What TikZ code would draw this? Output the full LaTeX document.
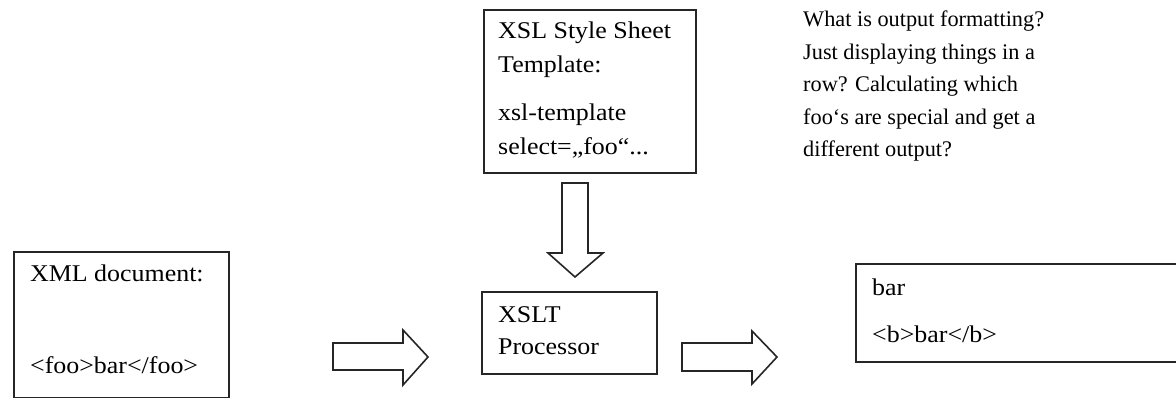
\documentclass[tikz,border=0pt]{standalone}
\usepackage{fontspec}
\setmainfont{Liberation Serif}
\newfontfamily\boxfont{Liberation Serif}[FakeStretch=1.08]
\newfontfamily\notefont{Liberation Serif}

\tikzset{
  box/.style={draw=black!85, line width=1.6pt, anchor=north west, inner sep=0pt},
  txt/.style={anchor=base west, inner sep=0pt, font=\boxfont\fontsize{24}{34}\selectfont},
  note/.style={anchor=base west, inner sep=0pt, font=\notefont\fontsize{22.3}{32.5}\selectfont},
  blockarrow/.style={draw=black!85, fill=white, line width=1.6pt, line join=miter}
}

\begin{document}
\begin{tikzpicture}[x=1pt, y=-1pt]
  \useasboundingbox (0,0) rectangle (1176,398);
  \clip (0,0) rectangle (1176,398);

  % boxes
  \node[box, minimum width=212pt, minimum height=163pt] (xsl) at (483,9) {};
  \node[box, minimum width=215pt, minimum height=146pt] (xml) at (13,251) {};
  \node[box, minimum width=175pt, minimum height=82pt] (proc) at (481,291) {};
  \node[box, minimum width=340pt, minimum height=98pt] (out) at (855,263) {};

  % box texts
  \node[txt] (xsltext) at (498,39)
    {\parbox[t]{190pt}{XSL Style Sheet\\Template:\\[14pt]xsl-template\\select=„foo“...}};
  \node[txt] (xmlhead) at (30,282) {XML document:};
  \node[txt] (xmlbody) at (30,373) {<foo>bar</foo>};
  \node[txt] (proctext) at (498,323)
    {\parbox[t]{150pt}{\baselineskip=32pt XSLT\\Processor}};
  \node[txt] (outa) at (872,295) {bar};
  \node[txt] (outb) at (872,342) {<b>bar</b>};

  % free note
  \node[note] (question) at (803,27)
    {\parbox[t]{300pt}{What is output formatting?\\Just displaying things in a\\row? Calculating which\\foo‘s are special and get a\\different output?}};

  % block arrows
  \draw[blockarrow] (562,183) -- (588,183) -- (588,253) -- (603,253) -- (575,277)
    -- (548,253) -- (562,253) -- cycle;
  \draw[blockarrow] (333,343) -- (403,343) -- (403,330) -- (428,357) -- (403,385)
    -- (403,370) -- (333,370) -- cycle;
  \draw[blockarrow] (682,343) -- (752,343) -- (752,331) -- (777,357) -- (752,384)
    -- (752,371) -- (682,371) -- cycle;
\end{tikzpicture}
\end{document}
